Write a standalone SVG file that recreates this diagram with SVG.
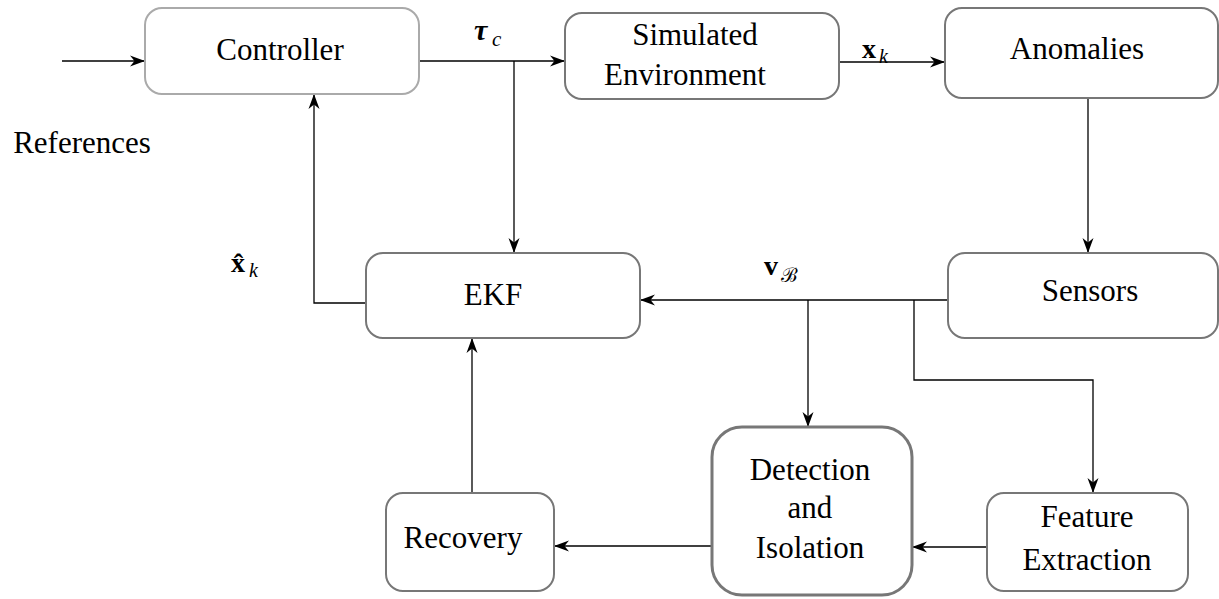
<svg xmlns="http://www.w3.org/2000/svg" width="1219" height="599" viewBox="0 0 1219 599">
<style>
.box{fill:#fff;stroke:#777;stroke-width:2}
.light{stroke:#aaa}
.thick{stroke-width:3}
.lbl{font-size:31px;fill:#000;text-anchor:middle}
.math{fill:#000}
.edge{fill:none;stroke:#000;stroke-width:1.3}
</style>
<defs>
<marker id="arr" markerUnits="userSpaceOnUse" viewBox="-15 -6 16 12" refX="0" refY="0" markerWidth="16" markerHeight="12" orient="auto">
<path d="M0,0 L-15,-5.5 L-10.5,0 L-15,5.5 Z" fill="#000"/>
</marker>
</defs>
<rect width="1219" height="599" fill="#fff"/>
<g id="connectors">
<path class="edge" d="M62,61 H145" marker-end="url(#arr)"/>
<path class="edge" d="M419,61 H565" marker-end="url(#arr)"/>
<path class="edge" d="M514,61 V253" marker-end="url(#arr)"/>
<path class="edge" d="M839,62 H945" marker-end="url(#arr)"/>
<path class="edge" d="M1088,98 V253" marker-end="url(#arr)"/>
<path class="edge" d="M948,300 H640" marker-end="url(#arr)"/>
<path class="edge" d="M808,300 V427" marker-end="url(#arr)"/>
<path class="edge" d="M914,300 V380 H1093 V493" marker-end="url(#arr)"/>
<path class="edge" d="M366,303 H314 V94" marker-end="url(#arr)"/>
<path class="edge" d="M987,547 H912" marker-end="url(#arr)"/>
<path class="edge" d="M712,546 H554" marker-end="url(#arr)"/>
<path class="edge" d="M472,493 V338" marker-end="url(#arr)"/>
</g>
<g font-family="'Times New Roman', Tinos, 'Liberation Serif', 'Noto Serif', 'DejaVu Serif', FreeSerif, Times, serif">
<g id="references">
<text class="lbl" x="82" y="153">References</text>
</g>
<g id="controller">
<rect class="box light" x="145" y="8" width="274" height="86" rx="17"/>
<text class="lbl" x="280" y="60">Controller</text>
</g>
<g id="simenv">
<rect class="box" x="565" y="13" width="274" height="86" rx="17"/>
<text class="lbl" x="695" y="45">Simulated</text>
<text class="lbl" x="685" y="85">Environment</text>
</g>
<g id="anomalies">
<rect class="box" x="945" y="8" width="273" height="90" rx="17"/>
<text class="lbl" x="1077" y="59">Anomalies</text>
</g>
<g id="ekf">
<rect class="box" x="366" y="253" width="274" height="85" rx="17"/>
<text class="lbl" x="493" y="305">EKF</text>
</g>
<g id="sensors">
<rect class="box" x="948" y="253" width="270" height="85" rx="17"/>
<text class="lbl" x="1090" y="301">Sensors</text>
</g>
<g id="detection">
<rect class="box thick" x="712" y="427" width="200" height="168" rx="30"/>
<text class="lbl" x="810" y="480">Detection</text>
<text class="lbl" x="810" y="518">and</text>
<text class="lbl" x="810" y="558">Isolation</text>
</g>
<g id="recovery">
<rect class="box" x="386" y="493" width="168" height="98" rx="17"/>
<text class="lbl" x="463" y="548">Recovery</text>
</g>
<g id="feature">
<rect class="box" x="987" y="493" width="201" height="98" rx="17"/>
<text class="lbl" x="1087" y="527">Feature</text>
<text class="lbl" x="1087" y="570">Extraction</text>
</g>
<g id="labels">
<text class="math" x="474" y="40" font-size="30" font-weight="bold" font-style="italic">τ</text>
<text class="math" x="492" y="46" font-size="21" font-style="italic">c</text>
<text class="math" x="862" y="58" font-size="28" font-weight="bold">x</text>
<text class="math" x="879" y="63" font-size="20" font-style="italic">k</text>
<text class="math" x="231" y="272" font-size="28" font-weight="bold">x̂</text>
<text class="math" x="249" y="277" font-size="20" font-style="italic">k</text>
<text class="math" x="764" y="275" font-size="28" font-weight="bold">v</text>
<text class="math" x="781" y="282" font-size="20" font-style="italic">ℬ</text>
</g>
</g>
</svg>
